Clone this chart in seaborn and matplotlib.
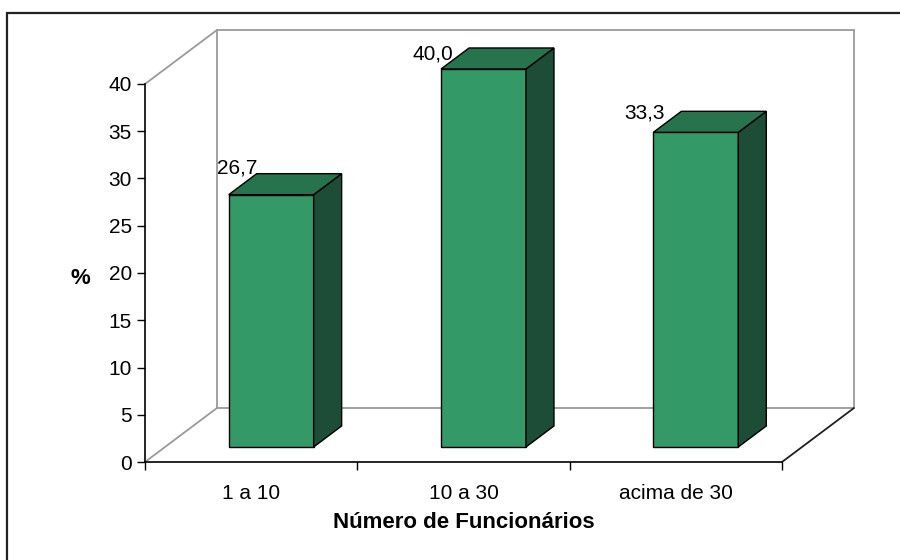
import matplotlib
matplotlib.use("Agg")
import matplotlib.pyplot as plt
from matplotlib.patches import Polygon, Rectangle
from matplotlib.lines import Line2D
from matplotlib.transforms import Affine2D
import pandas as pd
import seaborn as sns

# Data
categories = ["1 a 10", "10 a 30", "acima de 30"]
percentages = [26.7, 40.0, 33.3]
y_ticks = [0, 5, 10, 15, 20, 25, 30, 35, 40]

# Styling / layout
FRONT = "#339966"
TOP = "#26734D"
SIDE = "#1D4D36"
WALL = "#9a9a9a"
BAR_W = 0.4
DX, DY = 0.339, 5.714          # full depth offset of the 3D box, in data units
D_FRONT, D_BACK = 0.278, 0.667  # bar depth span as a fraction of the box depth
LABEL_NUDGE = [(29, 21), (12, 9), (11, 14)]  # value label offsets (px) from bar front-top-left corner

sns.set_theme(style="white")
plt.rcParams["font.family"] = ["Liberation Sans", "DejaVu Sans"]
for key in ["text.color", "axes.labelcolor", "xtick.color", "ytick.color"]:
    plt.rcParams[key] = "black"
FS = 15
FS_TITLE = 16

fig = plt.figure(figsize=(9, 5.6), dpi=100)
W, H = 900, 560
ax = fig.add_axes([145 / W, 1 - 462 / H, (782 - 145) / W, (462 - 84) / H])

df = pd.DataFrame({"cat": categories, "pct": percentages})

# Back wall, left wall and floor outlines (drawn behind the bars)
x0, x1 = -0.5, len(categories) - 0.5
ymax = y_ticks[-1]
wall_segments = [
    ([x0 + DX, x1 + DX], [DY, DY], WALL),
    ([x0 + DX, x1 + DX], [ymax + DY, ymax + DY], WALL),
    ([x0 + DX, x0 + DX], [DY, ymax + DY], WALL),
    ([x1 + DX, x1 + DX], [DY, ymax + DY], WALL),
    ([x0, x0 + DX], [ymax, ymax + DY], WALL),
    ([x0, x0 + DX], [0, DY], WALL),
    ([x1, x1 + DX], [0, DY], "#202020"),
]
for xs, ys, c in wall_segments:
    ax.add_line(Line2D(xs, ys, color=c, lw=1.3, clip_on=False, zorder=1))

sns.barplot(data=df, x="cat", y="pct", color=FRONT, width=BAR_W,
            edgecolor="black", linewidth=1.0, saturation=1, ax=ax, zorder=3)

# Push the front faces back into the box
shift = Affine2D().translate(D_FRONT * DX, D_FRONT * DY)
for p in ax.patches:
    p.set_transform(shift + ax.transData)
    p.set_clip_on(False)

sdx = (D_BACK - D_FRONT) * DX
sdy = (D_BACK - D_FRONT) * DY
for i, v in enumerate(percentages):
    fl = i - BAR_W / 2 + D_FRONT * DX
    fr = i + BAR_W / 2 + D_FRONT * DX
    fb = D_FRONT * DY
    ft = v + D_FRONT * DY
    top = Polygon([(fl, ft), (fr, ft), (fr + sdx, ft + sdy), (fl + sdx, ft + sdy)],
                  closed=True, facecolor=TOP, edgecolor="black", lw=1.0,
                  clip_on=False, zorder=3)
    side = Polygon([(fr, fb), (fr + sdx, fb + sdy), (fr + sdx, ft + sdy), (fr, ft)],
                   closed=True, facecolor=SIDE, edgecolor="black", lw=1.0,
                   clip_on=False, zorder=3)
    ax.add_patch(side)
    ax.add_patch(top)
    nx, ny = LABEL_NUDGE[i]
    ax.annotate(f"{v:.1f}".replace(".", ","), xy=(fl, ft),
                xytext=(nx * 0.72, ny * 0.72), textcoords="offset points",
                ha="right", va="baseline", fontsize=FS, color="black",
                annotation_clip=False, zorder=4)

ax.set_xlim(x0, x1)
ax.set_ylim(0, ymax)

# Axes / ticks
for s in ["top", "right"]:
    ax.spines[s].set_visible(False)
for s in ["left", "bottom"]:
    ax.spines[s].set_color("black")
    ax.spines[s].set_linewidth(1.2)

ax.set_yticks(y_ticks)
ax.set_yticklabels([str(t) for t in y_ticks], fontsize=FS)
ax.set_xticks([x0 + k for k in range(len(categories) + 1)])
ax.set_xticklabels([])
ax.set_xticks(range(len(categories)), minor=True)
ax.set_xticklabels(categories, minor=True, fontsize=FS)
ax.tick_params(axis="y", which="major", direction="out", length=6, width=1.0,
               color="black", labelcolor="black", pad=3.5, left=True)
ax.tick_params(axis="x", which="major", direction="out", length=6, width=1.0,
               color="black", bottom=True)
ax.tick_params(axis="x", which="minor", length=0, pad=16, labelcolor="black")

ax.set_xlabel("Número de Funcionários", fontsize=FS_TITLE, fontweight="bold", color="black")
ax.xaxis.set_label_coords(0.5, -0.159)
ax.xaxis.label.set_va("center")
ax.set_ylabel("%", fontsize=FS_TITLE, fontweight="bold", rotation=0, color="black")
ax.yaxis.set_label_coords((80 - 145) / (782 - 145), (462 - 278) / (462 - 84))
ax.yaxis.label.set_va("center")
ax.yaxis.label.set_ha("center")

# Chart frame
fig.add_artist(Rectangle((7 / W, -0.2), 1.5, 1.2 - 13 / H, transform=fig.transFigure,
                         fill=False, edgecolor="#222222", lw=1.6))

fig.savefig("out.png", dpi=100)
